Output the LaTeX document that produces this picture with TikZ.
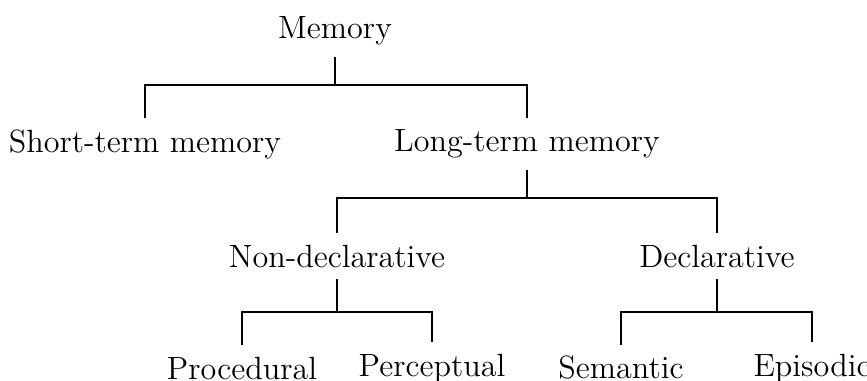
\documentclass[12pt,tikz,border=0pt]{standalone}
\usepackage{tikz}

\begin{document}
\begin{tikzpicture}[x=0.373pt, y=-0.373pt]
\useasboundingbox (0,0) rectangle (867,381);

% levels: 31, 144, 256, 368
\node (mem) at (335, 31) {Memory};
\node (stm) at (145, 144) {Short-term memory};
\node (ltm) at (527, 144) {Long-term memory};
\node (nondecl) at (337, 256) {Non-declarative};
\node (decl) at (717, 256) {Declarative};
\node (proc) at (242, 368) {Procedural};
\node (perc) at (432, 368) {Perceptual};
\node (sem) at (621, 368) {Semantic};
\node (epi) at (812, 368) {Episodic};

% branch points
\coordinate (j1) at (mem.south |- 0,85);
\coordinate (j2) at (ltm.south |- 0,198);
\coordinate (j3) at (nondecl.south |- 0,312);
\coordinate (j4) at (decl.south |- 0,312);

\draw (mem.south)--(j1) -| (stm.north);
\draw (j1) -| (ltm.north);
\draw (ltm.south)--(j2) -| (nondecl.north);
\draw (j2) -| (decl.north);
\draw (nondecl.south)--(j3) -| (proc.north);
\draw (j3) -| (perc.north);
\draw (decl.south)--(j4) -| (sem.north);
\draw (j4) -| (epi.north);

\end{tikzpicture}
\end{document}
